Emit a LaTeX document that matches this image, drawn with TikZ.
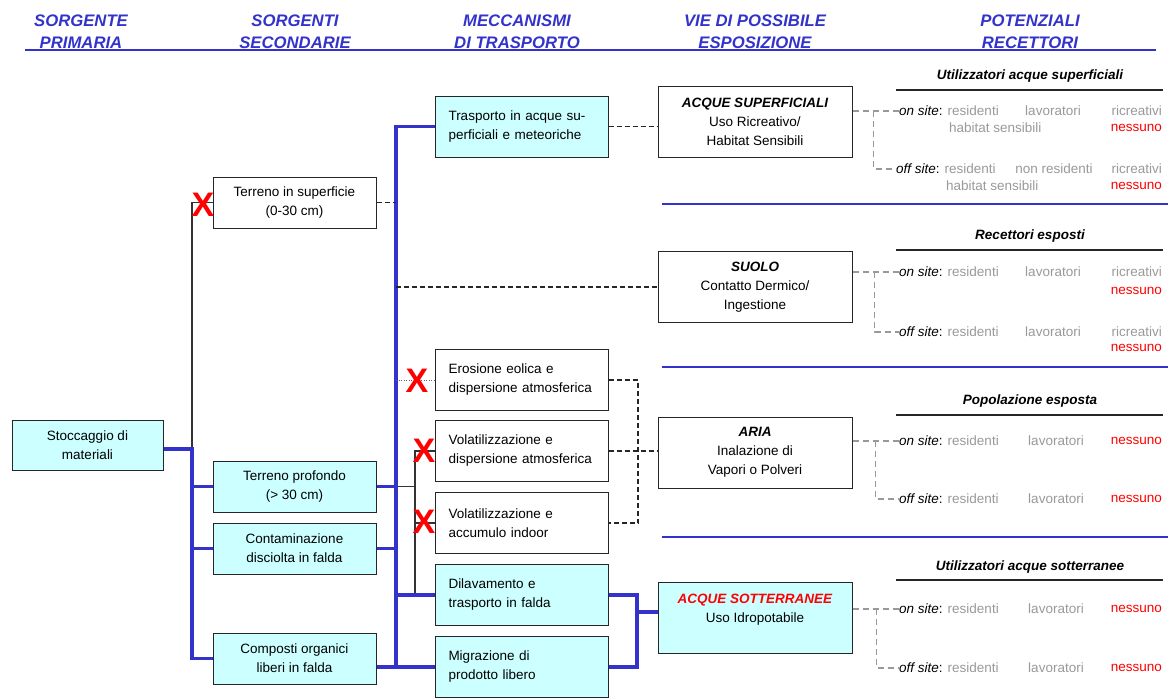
\documentclass[tikz,border=0pt]{standalone}
\usepackage{fontspec}
\setmainfont{Liberation Sans}
\usetikzlibrary{positioning}
\definecolor{celeste}{HTML}{CCFFFF}
\definecolor{bluscuro}{HTML}{3333CC}
\definecolor{grigio}{HTML}{999999}
\definecolor{rosso}{HTML}{FF0000}
\tikzstyle{cella} = [rectangle, draw=black!85, line width=1pt, inner sep=0pt,
    align=center, font=\fontsize{13.5}{19}\selectfont]
\tikzstyle{primaria} = [cella, fill=celeste, minimum width=151pt, minimum height=50pt]
\tikzstyle{secondaria} = [cella, fill=white, minimum width=163pt, minimum height=51pt]
\tikzstyle{meccanismo} = [cella, fill=white, text width=146pt, inner xsep=13.5pt,
    align=left, minimum height=61pt]
\tikzstyle{esposizione} = [cella, fill=white, minimum width=194pt, minimum height=71pt]
\tikzstyle{intesta} = [align=center, text=bluscuro, inner sep=0pt,
    font=\fontsize{16.7}{22}\selectfont\bfseries\itshape]
\tikzstyle{titolo} = [inner sep=0pt, font=\fontsize{13.5}{19}\selectfont\bfseries\itshape]
\tikzstyle{voce} = [inner sep=0pt, text=grigio, font=\fontsize{13.5}{19}\selectfont]
\tikzstyle{sito} = [voce, text=black, anchor=west]
\tikzstyle{rossa} = [voce, text=rosso, anchor=east]
\tikzstyle{croce} = [inner sep=0pt, text=rosso, font=\fontsize{34}{34}\selectfont\bfseries]
\tikzstyle{blu} = [draw=bluscuro, line width=3.5pt]
\tikzstyle{nero} = [draw=black!80, line width=1.2pt]
\tikzstyle{tratt} = [draw=black!85, line width=1.1pt, dash pattern=on 5pt off 3pt]
\tikzstyle{punt} = [draw=black!60, line width=1pt, dash pattern=on 1pt off 1.5pt]
\tikzstyle{grigiotr} = [draw=grigio, line width=1.2pt, dash pattern=on 6pt off 4pt]
\tikzstyle{separa} = [draw=bluscuro, line width=2pt]
\tikzstyle{riga} = [draw=black!85, line width=1.2pt]

\begin{document}
\begin{tikzpicture}[x=1pt, y=-1pt]
    \useasboundingbox (0,0) rectangle (1168,699);

    % intestazioni
    \node[intesta] (hPrim) at (81,32) {SORGENTE\\PRIMARIA};
    \node[intesta] (hSec) at (295,32) {SORGENTI\\SECONDARIE};
    \node[intesta] (hMecc) at (517,32) {MECCANISMI\\DI TRASPORTO};
    \node[intesta] (hVie) at (755,32) {VIE DI POSSIBILE\\ESPOSIZIONE};
    \node[intesta] (hRec) at (1030,32) {POTENZIALI\\RECETTORI};
    \draw[bluscuro, line width=2pt] (25,50) -- (1156,50);

    % sorgenti
    \node[primaria] (prim) at (87.5,445) {Stoccaggio di\\materiali};
    \node[secondaria] (terS) at (294.5,202.5) {Terreno in superficie\\(0-30 cm)};
    \node[secondaria, fill=celeste] (terP) at (294.5,486.5) {Terreno profondo\\(> 30 cm)};
    \node[secondaria, fill=celeste, below=10pt of terP] (contD) {Contaminazione\\disciolta in falda};
    \node[secondaria, fill=celeste] (compO) at (294.5,658.5) {Composti organici\\liberi in falda};

    % meccanismi di trasporto
    \node[meccanismo, fill=celeste] (trasp) at (521.5,126.5) {Trasporto in acque su-\\perficiali e meteoriche};
    \node[meccanismo] (eros) at (521.5,380) {Erosione eolica e\\dispersione atmosferica};
    \node[meccanismo, below=9pt of eros] (volD) {Volatilizzazione e\\dispersione atmosferica};
    \node[meccanismo, below=10pt of volD] (volI) {Volatilizzazione e\\accumulo indoor};
    \node[meccanismo, fill=celeste, below=10pt of volI] (dilav) {Dilavamento e\\trasporto in falda};
    \node[meccanismo, fill=celeste, below=10pt of dilav] (migr) {Migrazione di\\prodotto libero};

    % vie di esposizione
    \node[esposizione] (acqSup) at (755,121.5) {\textbf{\textit{ACQUE SUPERFICIALI}}\\Uso Ricreativo/\\Habitat Sensibili};
    \node[esposizione] (suolo) at (755,287) {\textbf{\textit{SUOLO}}\\Contatto Dermico/\\Ingestione};
    \node[esposizione] (aria) at (755,452.5) {\textbf{\textit{ARIA}}\\Inalazione di\\Vapori o Polveri};
    \node[esposizione, fill=celeste] (acqSot) at (755,617.5) {\textcolor{rosso}{\textbf{\textit{ACQUE SOTTERRANEE}}}\\Uso Idropotabile\\\mbox{}};

    \draw[separa] (662,204) -- (1168,204);
    \draw[separa] (662,367) -- (1168,367);
    \draw[separa] (662,537) -- (1168,537);

    % recettori acque superficiali
    \node[titolo] (tit1) at (1030,76) {Utilizzatori acque superficiali};
    \draw[riga] (896,90) -- (1163,90);
    \node[sito] (on1) at (899,111) {\textit{on site}: \textcolor{grigio}{residenti}};
    \node[voce] (lav1) at (1053,111) {lavoratori};
    \node[voce, anchor=east] (ric1) at (1162,111) {ricreativi};
    \node[voce, anchor=west] (hab1) at (949,128) {habitat sensibili};
    \node[rossa] (nes1) at (1162,128) {nessuno};
    \node[sito] (off1) at (896,169) {\textit{off site}: \textcolor{grigio}{residenti}};
    \node[voce] (nonres1) at (1054,169) {non residenti};
    \node[voce, anchor=east] (ric1b) at (1162,169) {ricreativi};
    \node[voce, anchor=west] (hab1b) at (946,186) {habitat sensibili};
    \node[rossa] (nes1b) at (1162,186) {nessuno};

    % recettori suolo
    \node[titolo] (tit2) at (1030,236) {Recettori esposti};
    \draw[riga] (896,250) -- (1163,250);
    \node[sito] (on2) at (899,272) {\textit{on site}: \textcolor{grigio}{residenti}};
    \node[voce] (lav2) at (1053,272) {lavoratori};
    \node[voce, anchor=east] (ric2) at (1162,272) {ricreativi};
    \node[rossa] (nes2) at (1162,291) {nessuno};
    \node[sito] (off2) at (899,332) {\textit{off site}: \textcolor{grigio}{residenti}};
    \node[voce] (lav2b) at (1053,332) {lavoratori};
    \node[voce, anchor=east] (ric2b) at (1162,332) {ricreativi};
    \node[rossa] (nes2b) at (1162,348) {nessuno};

    % recettori aria
    \node[titolo] (tit3) at (1030,401) {Popolazione esposta};
    \draw[riga] (896,415) -- (1163,415);
    \node[sito] (on3) at (899,441) {\textit{on site}: \textcolor{grigio}{residenti}};
    \node[voce] (lav3) at (1056,441) {lavoratori};
    \node[rossa] (nes3) at (1162,441) {nessuno};
    \node[sito] (off3) at (899,499) {\textit{off site}: \textcolor{grigio}{residenti}};
    \node[voce] (lav3b) at (1056,499) {lavoratori};
    \node[rossa] (nes3b) at (1162,499) {nessuno};

    % recettori acque sotterranee
    \node[titolo] (tit4) at (1030,567) {Utilizzatori acque sotterranee};
    \draw[riga] (896,580) -- (1163,580);
    \node[sito] (on4) at (899,609) {\textit{on site}: \textcolor{grigio}{residenti}};
    \node[voce] (lav4) at (1056,609) {lavoratori};
    \node[rossa] (nes4) at (1162,609) {nessuno};
    \node[sito] (off4) at (899,668) {\textit{off site}: \textcolor{grigio}{residenti}};
    \node[voce] (lav4b) at (1056,668) {lavoratori};
    \node[rossa] (nes4b) at (1162,668) {nessuno};

    % collegamenti
    \coordinate (busA) at (192,449);
    \coordinate (busB) at (396,127);
    \coordinate (busC) at (415,450);
    \coordinate (busD) at (637,612);
    \coordinate (busE) at (638,380);

    \path[nero] (terS.west) -| (busA);
    \path[blu] (prim.east |- busA) -- (busA) |- (compO.west);
    \path[blu] (busA |- terP.west) -- (terP.west);
    \path[blu] (busA |- contD.west) -- (contD.west);

    \path[nero] (busB |- terP.east) -- (busC |- terP.east);
    \path[nero] (volD.west) -| (busC |- dilav.west);
    \path[nero] (busC |- volI.west) -- (volI.west);

    \path[blu] (trasp.west) -| (busB |- migr.west) -- (migr.west);
    \path[blu] (compO.east |- migr.west) -- (busB |- migr.west);
    \path[blu] (terP.east) -- (busB |- terP.east);
    \path[blu] (contD.east) -- (busB |- contD.east);
    \path[blu] (busB |- dilav.west) -- (dilav.west);

    \path[tratt] (terS.east) -- (busB |- terS.east);
    \path[tratt] (trasp.east) -- (trasp.east -| acqSup.west);
    \path[tratt] (busB |- suolo.west) -- (suolo.west);
    \path[punt] (busB |- eros.west) -- (eros.west);
    \path[tratt] (eros.east) -| (busE |- volI.east) -- (volI.east);
    \path[tratt] (volD.east) -- (volD.east -| aria.west);

    \path[blu] (dilav.east) -| (busD |- migr.east) -- (migr.east);
    \path[blu] (busD) -- (busD -| acqSot.west);

    \path[grigiotr] (acqSup.east |- on1.west) -- (on1.west);
    \path[grigiotr] ([xshift=21pt]acqSup.east |- on1.west) |- (off1.west);
    \path[grigiotr] (suolo.east |- on2.west) -- (on2.west);
    \path[grigiotr] ([xshift=22pt]suolo.east |- on2.west) |- (off2.west);
    \path[grigiotr] (aria.east |- on3.west) -- (on3.west);
    \path[grigiotr] ([xshift=23pt]aria.east |- on3.west) |- (off3.west);
    \path[grigiotr] (acqSot.east |- on4.west) -- (on4.west);
    \path[grigiotr] ([xshift=24pt]acqSot.east |- on4.west) |- (off4.west);

    % percorsi esclusi
    \node[croce] (x1) at (203,204.5) {X};
    \node[croce] (x2) at (417,380.5) {X};
    \node[croce] (x3) at (424,450.5) {X};
    \node[croce] (x4) at (424,522) {X};
\end{tikzpicture}
\end{document}
